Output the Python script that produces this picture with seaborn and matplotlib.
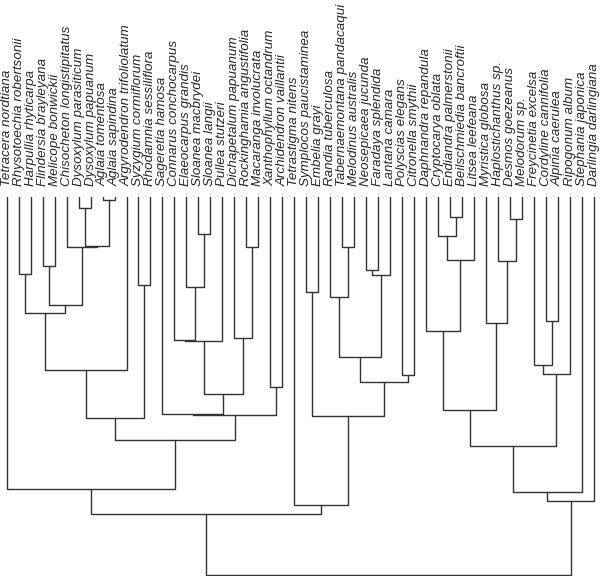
import numpy as np
import pandas as pd
import matplotlib
matplotlib.use("Agg")
import matplotlib.pyplot as plt
import seaborn as sns

labels = [
    "Tetracera nordtiana", "Rhysotoechia robertsonii", "Harpullia rhyticarpa",
    "Flindersia brayleyana", "Melicope bonwickii", "Chisocheton longistipitatus",
    "Dysoxylum parasiticum", "Dysoxylum papuanum", "Aglaia tomentosa",
    "Aglaia sapindina", "Argyrodendron trifoliolatum", "Syzygium cormiflorum",
    "Rhodamnia sessiliflora", "Sageretia hamosa", "Connarus conchocarpus",
    "Elaeocarpus grandis", "Sloanea macbrydei", "Sloanea langii",
    "Pullea stutzeri", "Dichapetalum papuanum", "Rockinghamia angustifolia",
    "Macaranga involucrata", "Xanthophyllum octandrum", "Archidendron vaillantii",
    "Tetrastigma nitens", "Symplocos paucistaminea", "Embelia grayi",
    "Randia tuberculosa", "Tabernaemontana pandacaqui", "Melodinus australis",
    "Neosepicaea jucunda", "Faradaya splendida", "Lantana camara",
    "Polyscias elegans", "Citronella smythii", "Daphnandra repandula",
    "Cryptocarya oblata", "Endiandra palmerstonii", "Beilschmiedia bancroftii",
    "Litsea leefeana", "Myristica globosa", "Haplostichanthus sp.",
    "Desmos goezeanus", "Melodorum sp.", "Freycinetia excelsa",
    "Cordyline cannifolia", "Alpinia caerulea", "Ripogonum album",
    "Stephania japonica", "Darlingia darlingiana",
]

# merges: ids 0..49 are leaves, merge k creates cluster id 50+k
merge_left = [8, 6, 37, 42, 16, 36, 51, 20, 28, 5,
              55, 41, 3, 30, 1, 63, 11, 15, 25, 27,
              62, 64, 45, 40, 35, 19, 14, 76, 69, 44,
              71, 79, 33, 78, 22, 77, 74, 13, 87, 68,
              80, 90, 86, 0, 92, 94, 24, 93, 97]
merge_right = [9, 7, 38, 43, 17, 52, 50, 21, 29, 56,
               39, 53, 4, 31, 2, 32, 12, 54, 26, 58,
               59, 70, 46, 61, 60, 57, 67, 18, 65, 72,
               10, 47, 34, 82, 23, 75, 73, 85, 84, 83,
               66, 88, 81, 91, 48, 49, 89, 96, 95]
merge_height = [2.7, 10.7, 19.7, 21.7, 37.0, 39.0, 49.0, 49.7, 49.7, 50.3,
                63.0, 64.0, 68.7, 73.3, 76.7, 78.0, 87.7, 90.3, 94.7, 99.7,
                108.3, 116.0, 124.3, 126.3, 134.0, 141.0, 143.0, 144.0, 160.0, 168.0,
                173.0, 177.3, 178.0, 184.7, 189.7, 197.0, 213.0, 217.0, 217.7, 218.5,
                221.3, 243.0, 249.0, 292.3, 295.3, 304.0, 308.3, 317.0, 378.3]

sns.set_style("white")
plt.rcParams["font.family"] = ["Liberation Sans", "DejaVu Sans"]

n = len(labels)
xpos = {i: float(i) for i in range(n)}
ypos = {i: 0.0 for i in range(n)}
rows = []
for k, (a, b, h) in enumerate(zip(merge_left, merge_right, merge_height)):
    xa, xb = xpos[a], xpos[b]
    ya, yb = ypos[a], ypos[b]
    for (x, y) in [(xa, ya), (xa, h), (xb, h), (xb, yb)]:
        rows.append({"x": x, "y": y, "seg": k})
    xpos[n + k] = (xa + xb) / 2.0
    ypos[n + k] = h
df = pd.DataFrame(rows)

fig = plt.figure(figsize=(6.0, 5.76), dpi=100)
ax = fig.add_axes([0.0, 0.0, 1.0, 379.0 / 576.0])
sns.lineplot(data=df, x="x", y="y", units="seg", estimator=None, sort=False,
             color="#333333", linewidth=1.0, ax=ax, legend=False)

ax.set_xlim(-0.559, 49.52)
ax.set_ylim(379.0, 0.0)
ax.xaxis.tick_top()
ax.set_xticks(range(n))
ax.set_xticklabels(labels, rotation=90, fontstyle="italic", fontsize=9.6)
ax.tick_params(axis="x", length=0, pad=8)
ax.set_yticks([])
ax.set_xlabel("")
ax.set_ylabel("")
for s in ax.spines.values():
    s.set_visible(False)

fig.savefig("out.png", dpi=100)
